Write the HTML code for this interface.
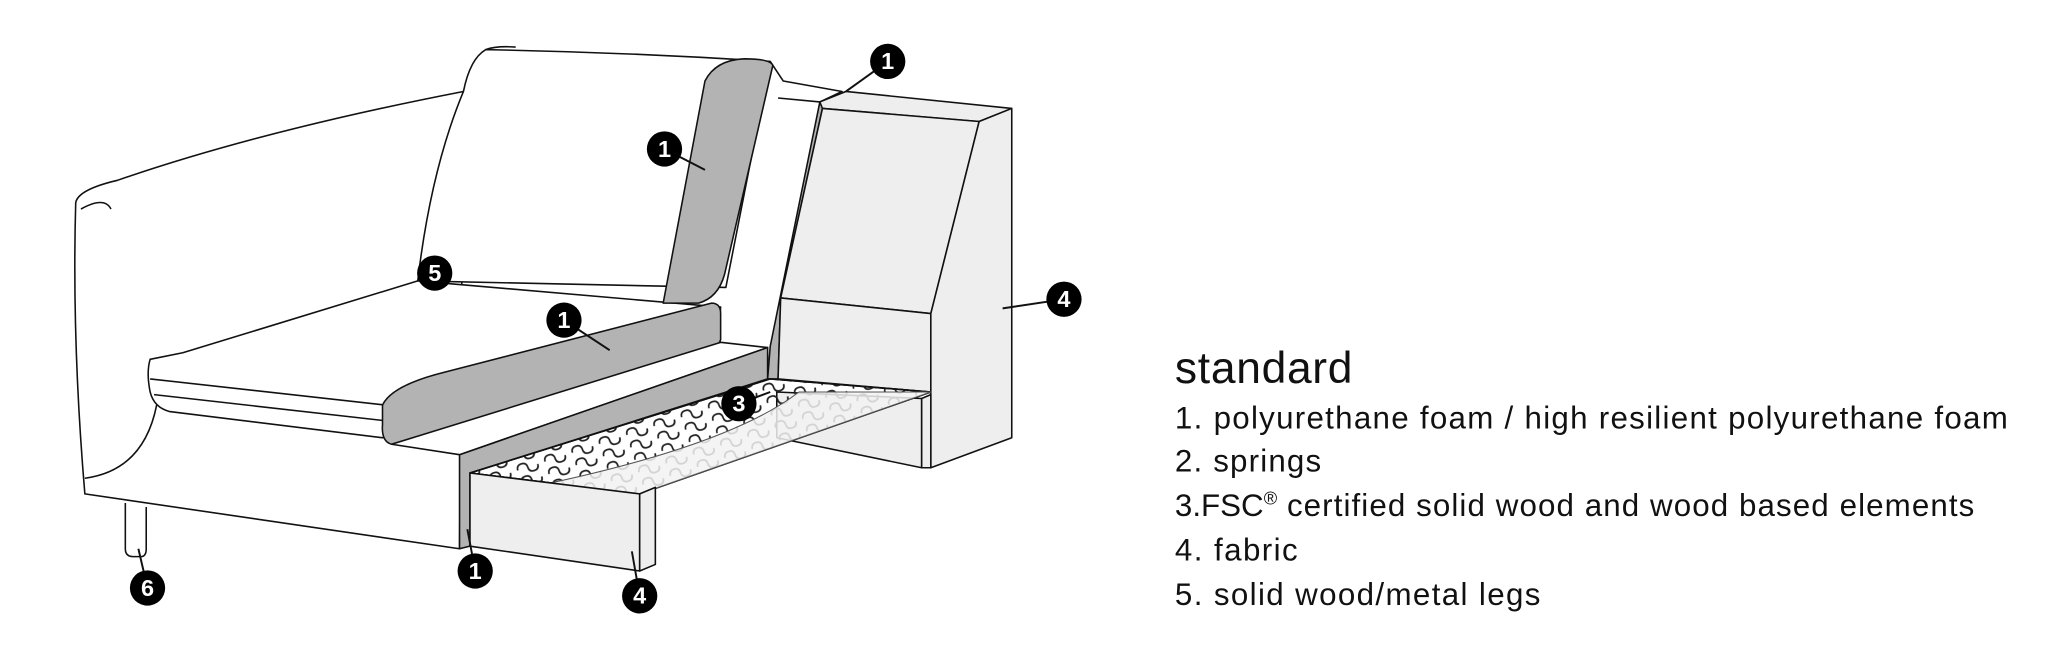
<!DOCTYPE html>
<html><head><style>
html,body{margin:0;padding:0;background:#fff;}
svg{display:block;}
text{font-family:"Liberation Sans",sans-serif;}
.n{fill:#fff;font-weight:bold;font-size:18px;text-anchor:middle;}
</style></head><body>
<svg width="2047" height="652" viewBox="0 0 1568 499" preserveAspectRatio="none" xmlns="http://www.w3.org/2000/svg">
<defs>
<pattern id="sp" width="22" height="10" patternUnits="userSpaceOnUse" patternTransform="rotate(-18)">
<path d="M2 5 q0 -4 4 -4 q4 0 4 4 q0 4 4 4 q4 0 4 -4" fill="none" stroke="#222" stroke-width="1.3"/>
</pattern>
</defs>
<g stroke="#111" stroke-width="1.2" fill="#fff" stroke-linejoin="round">
<path d="M96 385 L96 420 Q96 426 102 426 L108 426 Q112 426 112 420 L112 388" />
<path d="M58 155 Q60 145 90 138 Q200 100 355 70 L352 420 L65 378 Q55 260 58 155 Z"/>
<path d="M62 160 Q80 150 85 160" fill="none"/>
<path d="M120 310 Q110 360 65 366" fill="none"/>
<path d="M355 70 Q360 45 372 38 Q480 40 590 47 L556 220 L320 215 Q330 130 355 70 Z"/>
<path d="M372 38 Q380 35 395 36" fill="none"/>
<path d="M590 47 L600 62 L645 70 L628 78 L596 75" fill="none"/>
<path d="M115 275 Q112 285 115 300 Q118 312 130 315 L293 335 L550 262 L552 235 L320 215 L140 270 Z"/>
<path d="M115 290 L295 310 M118 302 L295 322" fill="none"/>
<path d="M508 232 L540 62 Q548 46 570 45 Q590 45 592 50 L555 210 Q550 228 535 232 Z" fill="#b3b3b3"/>
<path d="M293 310 Q300 295 340 285 L545 232 Q552 232 552 240 L552 260 Q550 266 540 268 L300 340 Q292 338 293 325 Z" fill="#b3b3b3"/>
<path d="M300 340 L352 348 L588 266 L552 262 Z"/>
<path d="M588 290 L590 265 L628 78 L648 70 L630 83 L598 228 L596 290 Z" fill="#b3b3b3"/>
<path d="M628 78 L648 70 L775 83 L750 93 L630 83 Z" fill="#eee"/>
<path d="M630 83 L750 93 L713 240 L598 228 Z" fill="#eee"/>
<path d="M598 228 L713 240 L713 300 L596 290 Z" fill="#eee"/>
<path d="M750 93 L775 83 L775 335 L713 358 L713 240 Z" fill="#eee"/>
<path d="M595 300 L706 305 L706 358 L595 335 Z" fill="#eee"/>
<path d="M706 305 L713 302 L713 358 L706 358 Z" fill="#eee"/>
<path d="M352 348 L588 266 L588 290 L360 362 L360 418 L352 420 Z" fill="#b3b3b3"/>
<path d="M360 362 L590 290 L713 300 L490 378 Z" fill="url(#sp)"/>
<path d="M360 362 L590 290 L713 300 L490 378 Z" fill="none"/>
<path d="M420 370 Q560 340 612 300 L713 300 L490 378 Z" fill="#f2f2f2" fill-opacity="0.85" stroke="#555" stroke-width="0.8"/>
<path d="M360 362 L490 378 L490 437 L360 418 Z" fill="#eee"/>
<path d="M490 378 L502 373 L502 432 L490 437 Z" fill="#eee"/>
</g>
<g stroke="#111" stroke-width="1.5">
<line x1="680" y1="47" x2="648" y2="70"/>
<line x1="509" y1="114" x2="540" y2="130"/>
<line x1="432" y1="245" x2="467" y2="268"/>
<line x1="566" y1="309" x2="590" y2="300"/>
<line x1="815" y1="229" x2="768" y2="236"/>
<line x1="364" y1="437" x2="358" y2="405"/>
<line x1="490" y1="456" x2="484" y2="422"/>
<line x1="113" y1="450" x2="106" y2="420"/>
</g>
<g fill="#000">
<circle cx="680" cy="47" r="13.5"/><circle cx="509" cy="114" r="13.5"/><circle cx="333" cy="209" r="13.5"/>
<circle cx="432" cy="245" r="13.5"/><circle cx="566" cy="309" r="13.5"/><circle cx="815" cy="229" r="13.5"/>
<circle cx="364" cy="437" r="13.5"/><circle cx="490" cy="456" r="13.5"/><circle cx="113" cy="450" r="13.5"/>
</g>
<text class="n" x="680" y="53">1</text><text class="n" x="509" y="120">1</text><text class="n" x="333" y="215">5</text>
<text class="n" x="432" y="251">1</text><text class="n" x="566" y="315">3</text><text class="n" x="815" y="235">4</text>
<text class="n" x="364" y="443">1</text><text class="n" x="490" y="462">4</text><text class="n" x="113" y="456">6</text>
<g fill="#111">
<text x="900" y="293" font-size="34" textLength="136">standard</text>
<text x="900" y="328" font-size="24" textLength="638">1. polyurethane foam / high resilient polyurethane foam</text>
<text x="900" y="361" font-size="24" textLength="112">2. springs</text>
<text x="900" y="395" font-size="24">3.FSC<tspan font-size="14" dy="-9">®</tspan><tspan dy="9" textLength="534"> certified solid wood and wood based elements</tspan></text>
<text x="900" y="429" font-size="24" textLength="94">4. fabric</text>
<text x="900" y="463" font-size="24" textLength="280">5. solid wood/metal legs</text>
</g>
</svg>
</body></html>
